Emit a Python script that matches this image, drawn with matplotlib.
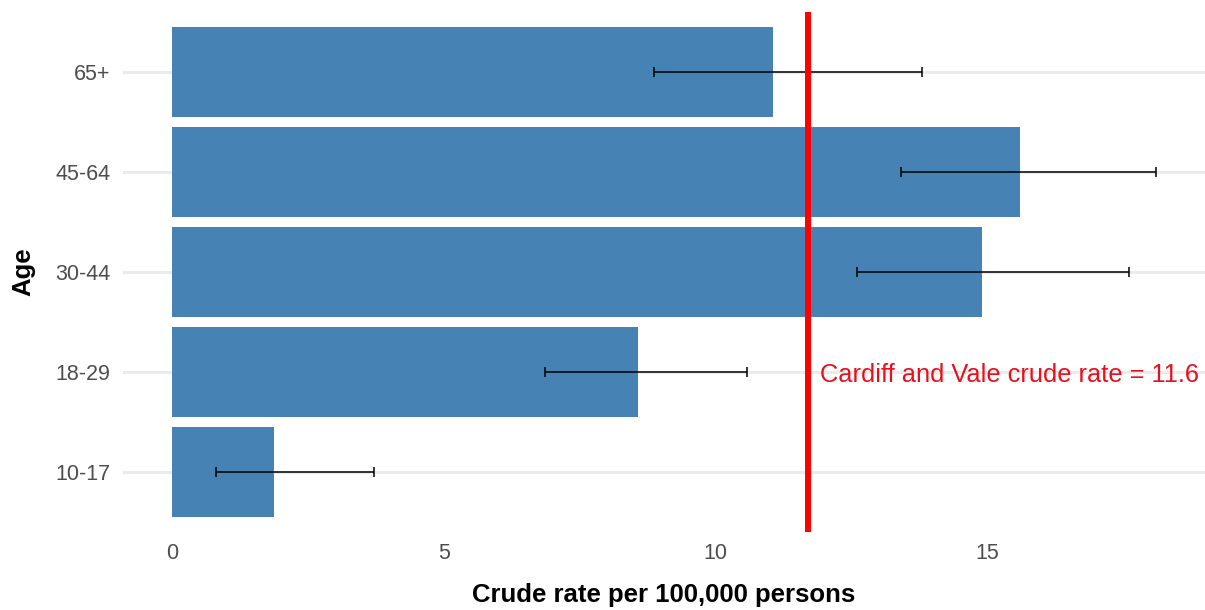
import numpy as np
import matplotlib
matplotlib.use("Agg")
import matplotlib.pyplot as plt

plt.rcParams['font.family'] = ['Liberation Sans', 'DejaVu Sans']

# data
ages = ["10-17", "18-29", "30-44", "45-64", "65+"]
rates = [1.88, 8.57, 14.9, 15.6, 11.05]
ci_low = [0.81, 6.86, 12.6, 13.4, 8.86]
ci_high = [3.71, 10.57, 17.6, 18.1, 13.8]
area_rate = 11.7
area_label = "Cardiff and Vale crude rate = 11.6"

fig = plt.figure(figsize=(12.05, 6.10), dpi=100)
ax = fig.add_axes([0.102, 0.128, 0.898, 0.852])

y = np.arange(len(ages))
ax.barh(y, rates, height=0.9, color="#4682B4", zorder=2)
err = [np.array(rates) - np.array(ci_low), np.array(ci_high) - np.array(rates)]
ax.errorbar(rates, y, xerr=err, fmt="none", ecolor="black", elinewidth=1.1,
            capsize=3.5, capthick=1.1, zorder=3)

ax.axvline(area_rate, color="#FF0000", linewidth=4.3, zorder=4)
ax.text(15.4, 1, area_label, color="#E8101C", fontsize=18.3,
        ha="center", va="center_baseline", zorder=5)

ax.set_yticks(y)
ax.set_yticklabels(ages)
ax.set_xticks([0, 5, 10, 15])
ax.set_xlim(-0.905, 19.0)
ax.set_ylim(-0.6, len(ages) - 0.4)

ax.grid(axis="y", color="#EBEBEB", linewidth=2.2, zorder=0)
ax.grid(axis="x", visible=False)
ax.set_axisbelow(True)
for s in ax.spines.values():
    s.set_visible(False)
ax.tick_params(length=0, labelsize=15.5, labelcolor="#4D4D4D", pad=9)
ax.tick_params(axis="x", pad=8)

ax.set_xlabel("Crude rate per 100,000 persons", fontsize=18.5, fontweight="bold", labelpad=14)
ax.set_ylabel("Age", fontsize=18.5, fontweight="bold", labelpad=14)

fig.savefig("out.png", dpi=100)
